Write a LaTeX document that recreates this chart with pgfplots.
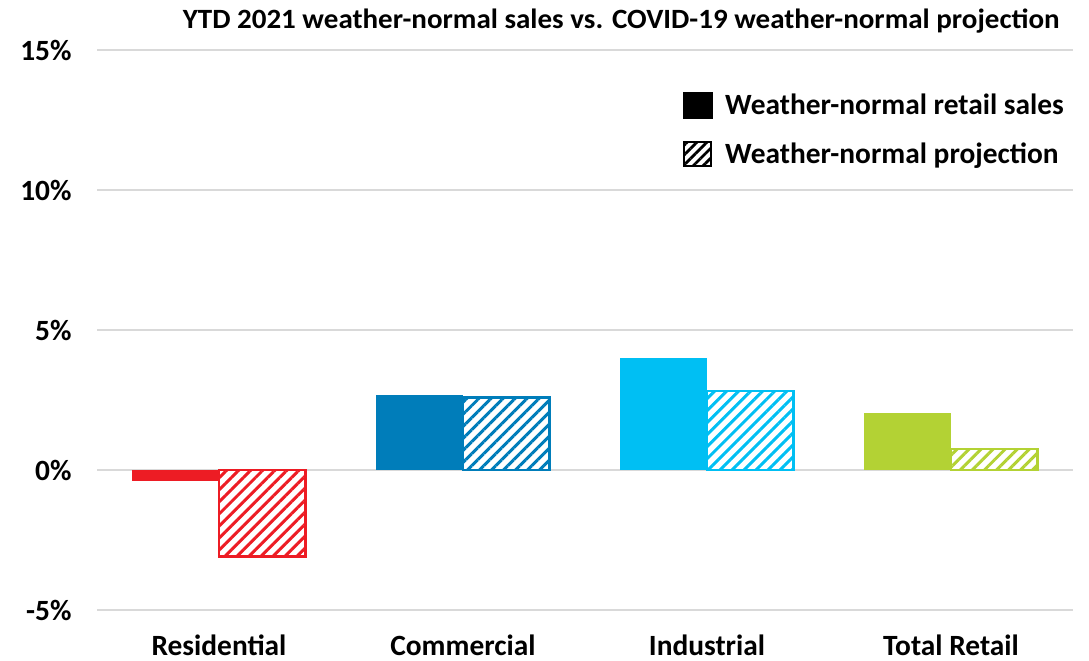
\documentclass[border=0pt]{standalone}
\usepackage{pgfplots}
\pgfplotsset{compat=1.18}
\usetikzlibrary{patterns.meta}
\usepackage{fontspec}
\setmainfont{Carlito}
\usepackage{graphicx}
\definecolor{cRes}{HTML}{ED1C24}
\definecolor{cCom}{HTML}{007DBA}
\definecolor{cInd}{HTML}{00BFF3}
\definecolor{cTot}{HTML}{B3D234}
\definecolor{gridc}{HTML}{D9D9D9}
\tikzset{hatch/.style={pattern={Lines[angle=45,distance=8.5bp,line width=3bp]}, pattern color=#1, draw=#1, line width=2.8bp}}
\begin{document}
\begin{tikzpicture}
\useasboundingbox (0,0) rectangle (1089bp,661bp);
\begin{axis}[
  at={(97bp,51bp)}, anchor=south west, scale only axis,
  width=976bp, height=560bp,
  xmin=-0.5, xmax=3.5, ymin=-5, ymax=15,
  axis line style={draw=none}, tick style={draw=none},
  ytick={-5,0,5,10,15}, yticklabels={-5\%,0\%,5\%,10\%,15\%},
  ymajorgrids, grid style={gridc, line width=2bp},
  xtick={0,1,2,3}, xticklabels={Residential,Commercial,Industrial,Total Retail},
  tick label style={font=\fontsize{29.5}{32}\selectfont\bfseries},
  yticklabel style={xshift=-22bp},
  xticklabel style={yshift=-17bp},
  ybar, bar width=0.356,
  legend style={at={(0.600,0.925)}, anchor=north west, draw=none, fill=none,
    inner sep=0pt, font=\fontsize{29.5}{32}\selectfont\bfseries, row sep=22bp},
  legend cell align=left,
]
\addplot[ybar, fill=cRes, draw=none, bar shift=-0.178, forget plot] coordinates {(0,-0.4)};
\addplot[ybar, hatch=cRes, bar shift=0.178, forget plot] coordinates {(0,-3.1)};
\addplot[ybar, fill=cCom, draw=none, bar shift=-0.178, forget plot] coordinates {(1,2.68)};
\addplot[ybar, hatch=cCom, bar shift=0.178, forget plot] coordinates {(1,2.6)};
\addplot[ybar, fill=cInd, draw=none, bar shift=-0.178, forget plot] coordinates {(2,4.0)};
\addplot[ybar, hatch=cInd, bar shift=0.178, forget plot] coordinates {(2,2.82)};
\addplot[ybar, fill=cTot, draw=none, bar shift=-0.178, forget plot] coordinates {(3,2.04)};
\addplot[ybar, hatch=cTot, bar shift=0.178, forget plot] coordinates {(3,0.75)};
\addlegendimage{legend image code/.code={\fill[black] (0bp,-13bp) rectangle (29bp,13bp); \path[draw=none,fill=none] (0bp,0bp) -- (40bp,0bp);}}
\addlegendentry{Weather-normal retail sales}
\addlegendimage{legend image code/.code={\draw[black, line width=2bp, pattern={Lines[angle=45,distance=7bp,line width=2.8bp]}, pattern color=black] (1bp,-12bp) rectangle (28bp,12bp); \path[draw=none,fill=none] (0bp,0bp) -- (36bp,0bp);}}
\addlegendentry{Weather-normal projection}
\end{axis}
\node[anchor=base east, inner sep=0pt] at (1060bp,632bp)
  {\resizebox{877bp}{\height}{\fontsize{28}{30}\selectfont\bfseries YTD 2021 weather-normal sales vs. COVID-19 weather-normal projection}};
\end{tikzpicture}
\end{document}
